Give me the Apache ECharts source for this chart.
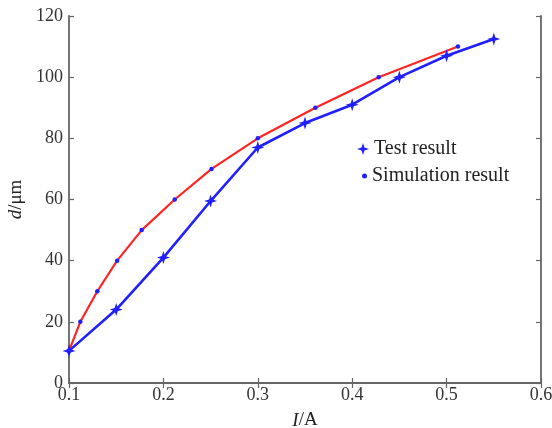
<!DOCTYPE html>
<html><head><meta charset="utf-8">
<script src="https://cdn.jsdelivr.net/npm/echarts@6/dist/echarts.min.js"></script>
<style>html,body{margin:0;padding:0;background:#fff}#c{width:552px;height:428px}</style>
</head><body><div id="c"></div>
<script>
const testX = [0.1, 0.15, 0.2, 0.25, 0.3, 0.35, 0.4, 0.45, 0.5, 0.55];
const testY = [10.5, 24, 41, 59.5, 77, 85, 91, 100, 107, 112.5];
const simX = [0.1, 0.112, 0.13, 0.151, 0.177, 0.212, 0.251, 0.3, 0.361, 0.428, 0.512];
const simY = [10.5, 20, 30, 40, 50, 60, 70, 80, 90, 100, 110];
const xTicks = [0.1, 0.2, 0.3, 0.4, 0.5, 0.6];
const yTicks = [0, 20, 40, 60, 80, 100, 120];

const star = 'path://M0,-10 L2.4,-2.4 L10,0 L2.4,2.4 L0,10 L-2.4,2.4 L-10,0 L-2.4,-2.4 Z';
const font = 'Liberation Serif';
const axisCol = '#666';
const blue = '#1f1fff';
const chart = echarts.init(document.getElementById('c'));
const common = {
  axisLine: {show: true, lineStyle: {color: axisCol, width: 1.8}},
  axisTick: {show: true, inside: true, length: 5, lineStyle: {color: axisCol, width: 1.2}},
  splitLine: {show: false}
};
const legendText = {fontFamily: font, fontSize: 20, color: '#222'};
chart.setOption({
  animation: false,
  grid: {left: 69, right: 11, top: 16, bottom: 45, containLabel: false, outerBoundsMode: 'none'},
  legend: [
    {left: 352, top: 134, itemWidth: 12, itemHeight: 12, textStyle: legendText,
      data: [{name: 'Test result', icon: star, itemStyle: {color: blue}}]},
    {left: 357, top: 161, itemWidth: 5, itemHeight: 5, textStyle: legendText,
      data: [{name: 'Simulation result', icon: 'circle', itemStyle: {color: blue}}]}
  ],
  xAxis: [
    Object.assign({type: 'value', min: xTicks[0], max: xTicks[xTicks.length-1], interval: 0.1,
      name: '{i|I}/A', nameLocation: 'middle', nameGap: 28,
      nameTextStyle: {fontFamily: font, fontSize: 19, color: '#222', rich: {i: {fontStyle: 'italic', fontFamily: font, fontSize: 19, color: '#222'}}},
      axisLabel: {fontFamily: font, fontSize: 18, color: '#333', margin: 3, formatter: v => (+v).toFixed(1)}}, common),
    Object.assign({type: 'value', position: 'top', min: xTicks[0], max: xTicks[xTicks.length-1], interval: 0.1, axisLabel: {show: false}}, common)
  ],
  yAxis: [
    Object.assign({type: 'value', min: yTicks[0], max: yTicks[yTicks.length-1], interval: 20,
      name: '{i|d}/μm', nameLocation: 'middle', nameGap: 43, nameRotate: 90,
      nameTextStyle: {fontFamily: font, fontSize: 19, color: '#222', rich: {i: {fontStyle: 'italic', fontFamily: font, fontSize: 19, color: '#222'}}},
      axisLabel: {fontFamily: font, fontSize: 18, color: '#333', margin: 6}}, common),
    Object.assign({type: 'value', position: 'right', min: yTicks[0], max: yTicks[yTicks.length-1], interval: 20, axisLabel: {show: false}}, common)
  ],
  series: [
    {name: 'Simulation result', type: 'line', data: simX.map((x, i) => [x, simY[i]]),
      lineStyle: {color: '#ff2424', width: 2.2}, symbol: 'circle', symbolSize: 4.5,
      itemStyle: {color: blue}, z: 3},
    {name: 'Test result', type: 'line', data: testX.map((x, i) => [x, testY[i]]),
      lineStyle: {color: blue, width: 2.6}, symbol: star, symbolSize: 13,
      itemStyle: {color: blue}, z: 4}
  ]
});
</script></body></html>
